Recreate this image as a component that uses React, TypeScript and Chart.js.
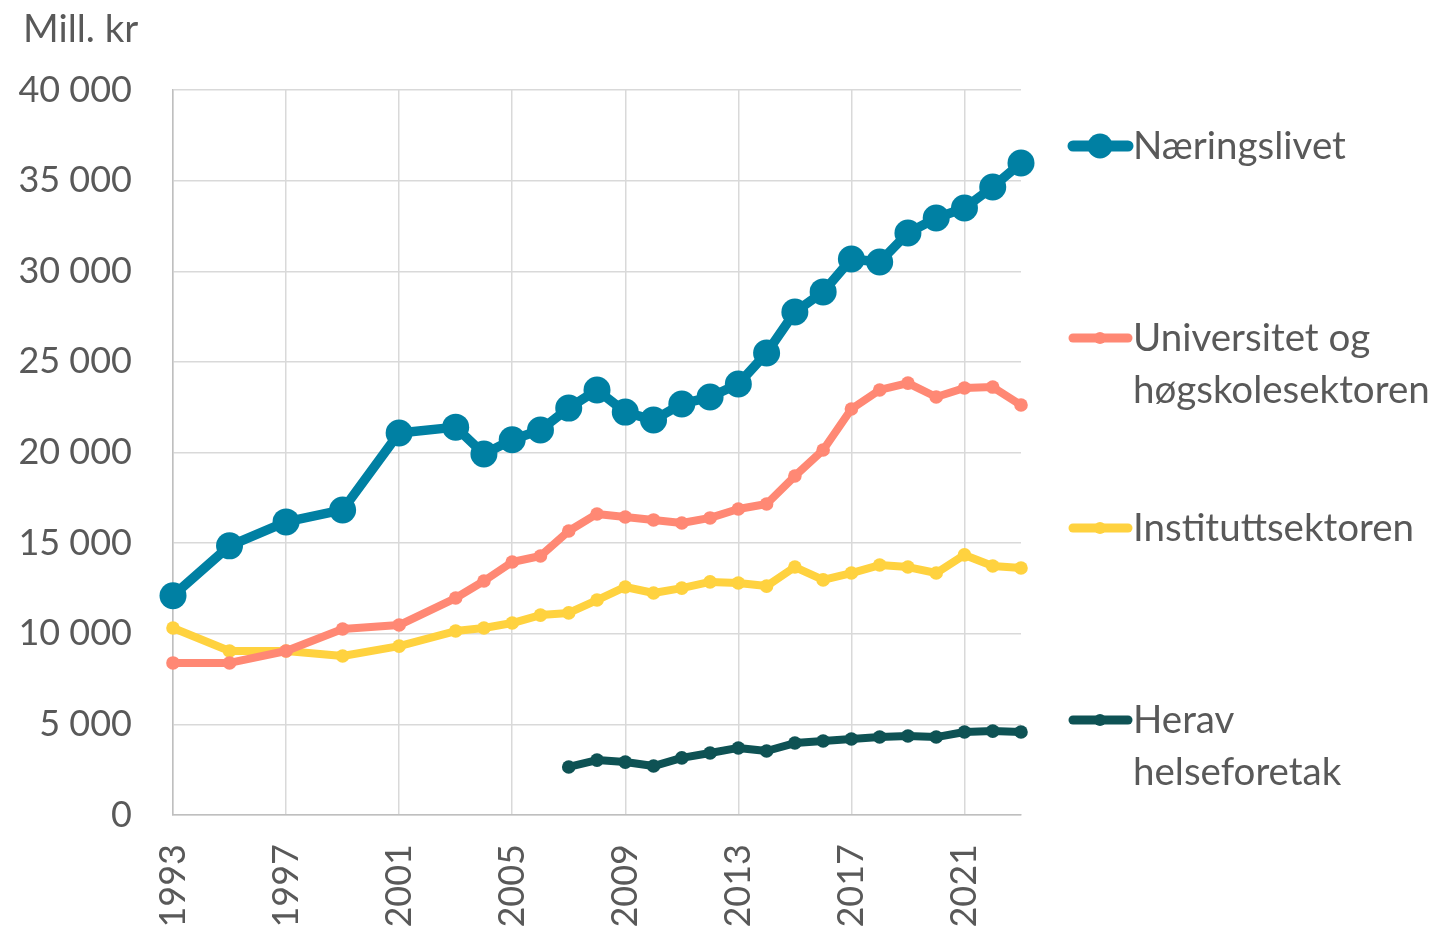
import React, { useEffect, useRef } from "react";
import { Chart, registerables } from "chart.js";

Chart.register(...registerables);

const years = [1993, 1995, 1997, 1999, 2001, 2003, 2004, 2005, 2006, 2007, 2008, 2009, 2010, 2011, 2012, 2013, 2014, 2015, 2016, 2017, 2018, 2019, 2020, 2021, 2022, 2023];
const naeringslivet = [12100, 14850, 16170, 16830, 21080, 21400, 19920, 20700, 21240, 22450, 23450, 22230, 21790, 22680, 23060, 23780, 25490, 27750, 28860, 30680, 30510, 32110, 32940, 33490, 34650, 35970];
const universitet = [8390, 8390, 9050, 10260, 10480, 11970, 12910, 13960, 14290, 15670, 16610, 16440, 16280, 16110, 16390, 16880, 17160, 18700, 20140, 22400, 23450, 23830, 23060, 23560, 23610, 22620];
const instituttsektoren = [10320, 9050, 9050, 8770, 9320, 10150, 10320, 10590, 11030, 11150, 11860, 12580, 12250, 12520, 12860, 12800, 12630, 13680, 12970, 13350, 13790, 13680, 13350, 14350, 13740, 13630];
const helseYears = [2007, 2008, 2009, 2010, 2011, 2012, 2013, 2014, 2015, 2016, 2017, 2018, 2019, 2020, 2021, 2022, 2023];
const helseforetak = [2650, 3030, 2920, 2700, 3150, 3420, 3700, 3530, 3970, 4080, 4190, 4300, 4360, 4300, 4580, 4630, 4580];
const xTickYears = [1993, 1997, 2001, 2005, 2009, 2013, 2017, 2021];
const yTickValues = [0, 5000, 10000, 15000, 20000, 25000, 30000, 35000, 40000];

const seriesNames = ["Næringslivet", "Universitet og høgskolesektoren", "Instituttsektoren", "Herav helseforetak"];
const legendLines = [["Næringslivet"], ["Universitet og", "høgskolesektoren"], ["Instituttsektoren"], ["Herav", "helseforetak"]];
const colors = ["#0080A3", "#FF8874", "#FFD23F", "#0E5254"];

const FONT = "Lato, 'Open Sans', sans-serif";
const TEXT = "#595959";

function fmt(v: number) {
  return String(v).replace(/\B(?=(\d{3})+(?!\d))/g, " ");
}

const pts = (xs: number[], ys: number[]) => xs.map((x, i) => ({ x, y: ys[i] }));

const overlay = {
  id: "overlay",
  afterDraw(chart: any) {
    const ctx = chart.ctx;
    ctx.save();
    ctx.font = `38.5px ${FONT}`;
    ctx.fillStyle = TEXT;
    ctx.textBaseline = "middle";
    ctx.textAlign = "left";
    ctx.fillText("Mill. kr", 23, 30);

    ctx.font = `38.5px ${FONT}`;
    const ys = [146, 338, 528, 720];
    const lineH = 52;
    legendLines.forEach((lines, i) => {
      const y = ys[i];
      const big = i === 0;
      ctx.strokeStyle = colors[i];
      ctx.lineWidth = big ? 11 : 9;
      ctx.lineCap = "round";
      ctx.beginPath();
      ctx.moveTo(1073, y);
      ctx.lineTo(1128, y);
      ctx.stroke();
      ctx.fillStyle = colors[i];
      ctx.beginPath();
      ctx.arc(1100, y, big ? 12.5 : 6, 0, Math.PI * 2);
      ctx.fill();
      ctx.fillStyle = TEXT;
      lines.forEach((t, j) => ctx.fillText(t, 1133, y + j * lineH + 1));
    });
    ctx.restore();
  },
};

export default function App() {
  const ref = useRef<HTMLCanvasElement>(null);
  useEffect(() => {
    document.body.style.margin = "0";
    const common = { pointBorderWidth: 0, clip: false as any };
    const chart = new Chart(ref.current!, {
      type: "line",
      data: {
        datasets: [
          {
            label: seriesNames[0],
            data: pts(years, naeringslivet),
            borderColor: colors[0],
            backgroundColor: colors[0],
            borderWidth: 9.5,
            pointRadius: 13.5,
            order: 0,
            ...common,
          },
          {
            label: seriesNames[1],
            data: pts(years, universitet),
            borderColor: colors[1],
            backgroundColor: colors[1],
            borderWidth: 8,
            pointRadius: 6.8,
            order: 1,
            ...common,
          },
          {
            label: seriesNames[2],
            data: pts(years, instituttsektoren),
            borderColor: colors[2],
            backgroundColor: colors[2],
            borderWidth: 8,
            pointRadius: 6.8,
            order: 2,
            ...common,
          },
          {
            label: seriesNames[3],
            data: pts(helseYears, helseforetak),
            borderColor: colors[3],
            backgroundColor: colors[3],
            borderWidth: 8,
            pointRadius: 6.8,
            order: 3,
            ...common,
          },
        ],
      },
      options: {
        animation: false,
        responsive: false,
        devicePixelRatio: 1,
        layout: { padding: { left: 0, right: 421, top: 90, bottom: 0 } },
        plugins: { legend: { display: false }, tooltip: { enabled: false } },
        elements: { line: { tension: 0, borderJoinStyle: "round", borderCapStyle: "round" } },
        scales: {
          x: {
            type: "linear",
            min: 1993,
            max: 2023,
            afterBuildTicks: (s: any) => {
              s.ticks = xTickYears.map((v) => ({ value: v }));
            },
            afterFit: (s: any) => {
              s.height = 113;
            },
            grid: { color: "#D9D9D9", lineWidth: 1.5, drawTicks: false },
            border: { display: true, color: "#BFBFBF", width: 1.5 },
            ticks: {
              maxRotation: 90,
              minRotation: 90,
              autoSkip: false,
              padding: 29,
              color: TEXT,
              font: { family: FONT, size: 36 },
              callback: (v: any) => String(v),
            },
          },
          y: {
            min: 0,
            max: 40000,
            afterBuildTicks: (s: any) => {
              s.ticks = yTickValues.map((v) => ({ value: v }));
            },
            afterFit: (s: any) => {
              s.width = 173;
            },
            grid: { color: "#D9D9D9", lineWidth: 1.5, drawTicks: false },
            border: { display: true, color: "#BFBFBF", width: 1.5 },
            ticks: {
              padding: 41,
              color: TEXT,
              font: { family: FONT, size: 36 },
              callback: (v: any) => fmt(Number(v)),
            },
          },
        },
      },
      plugins: [overlay],
    });
    return () => chart.destroy();
  }, []);
  return (
    <div style={{ position: "absolute", left: 0, top: 0, width: 1442, height: 928 }}>
      <canvas ref={ref} width={1442} height={928} style={{ display: "block", width: 1442, height: 928 }} />
    </div>
  );
}
